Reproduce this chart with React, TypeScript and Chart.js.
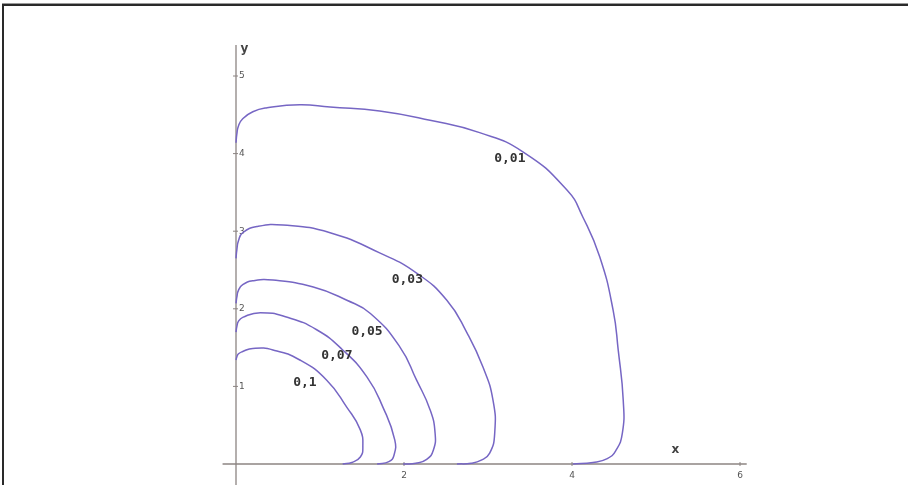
import React, { useEffect, useRef } from "react";
import { Chart, registerables } from "chart.js";

Chart.register(...registerables);

// Contour levels and their curves (x, y)
const levelLabels = ["0,01", "0,03", "0,05", "0,07", "0,1"];

const c001X = [0, 0.01, 0.03, 0.08, 0.2, 0.37, 0.76, 1.12, 1.71, 2.31, 2.9, 3.42, 3.94, 4.13, 4.33, 4.49, 4.55, 4.61, 4.6, 4.52, 4.42, 4.25, 4.01];
const c001Y = [4.14, 4.25, 4.36, 4.45, 4.54, 4.59, 4.63, 4.6, 4.55, 4.43, 4.27, 4.02, 3.53, 3.18, 2.67, 1.98, 1.47, 0.82, 0.4, 0.17, 0.07, 0.02, 0];

const c003X = [0, 0.01, 0.03, 0.08, 0.25, 0.56, 1.12, 1.71, 2.15, 2.51, 2.75, 2.94, 3.06, 3.08, 3.02, 2.92, 2.8, 2.63];
const c003Y = [2.65, 2.76, 2.88, 2.98, 3.06, 3.08, 2.98, 2.72, 2.46, 2.11, 1.69, 1.25, 0.82, 0.4, 0.14, 0.05, 0.01, 0];

const c005X = [0, 0.01, 0.03, 0.08, 0.2, 0.44, 0.92, 1.32, 1.6, 1.95, 2.15, 2.31, 2.37, 2.35, 2.27, 2.14, 1.99];
const c005Y = [2.07, 2.15, 2.24, 2.31, 2.36, 2.37, 2.28, 2.11, 1.94, 1.51, 1.08, 0.7, 0.4, 0.18, 0.06, 0.01, 0];

const c007X = [0, 0.01, 0.03, 0.08, 0.29, 0.61, 0.96, 1.27, 1.56, 1.75, 1.89, 1.88, 1.82, 1.68];
const c007Y = [1.7, 1.77, 1.84, 1.89, 1.95, 1.89, 1.73, 1.47, 1.12, 0.73, 0.31, 0.11, 0.03, 0];

const c01X = [0, 0.01, 0.03, 0.08, 0.2, 0.44, 0.76, 1.08, 1.32, 1.48, 1.51, 1.48, 1.38, 1.27];
const c01Y = [1.34, 1.38, 1.42, 1.45, 1.49, 1.47, 1.34, 1.08, 0.73, 0.44, 0.22, 0.09, 0.02, 0];

const curvesX = [c001X, c003X, c005X, c007X, c01X];
const curvesY = [c001Y, c003Y, c005Y, c007Y, c01Y];

// Label positions (data coords)
const labelX = [3.26, 2.04, 1.56, 1.2, 0.82];
const labelY = [3.93, 2.38, 1.71, 1.4, 1.05];

const xTicks = [2, 4, 6];
const yTicks = [1, 2, 3, 4, 5];
const xAxisRange = [-0.16, 6.08];
const yAxisRange = [-0.3, 5.4];
const xName = "x";
const yName = "y";
const xNamePos = [5.23, 0.18];
const yNamePos = [0.1, 5.35];

const W = 908;
const H = 485;
const PX_X = 84;
const PX_Y = 77.6;
const ORIGIN_X = 236;
const ORIGIN_Y = 464;

const CURVE_COLOR = "#7666c4";
const AXIS_COLOR = "#8c8482";

const decorPlugin = {
  id: "decor",
  beforeDatasetsDraw(chart: any) {
    const ctx = chart.ctx;
    const xs = chart.scales.x;
    const ys = chart.scales.y;
    ctx.save();
    // frame
    ctx.fillStyle = "#9a9a9a";
    ctx.fillRect(2, 3, W, 1);
    ctx.fillStyle = "#2a2a2a";
    ctx.fillRect(2, 4, W, 2);
    ctx.fillRect(2, 4, 2, H);
    // axes
    ctx.strokeStyle = AXIS_COLOR;
    ctx.lineWidth = 1.6;
    const x0 = xs.getPixelForValue(0);
    const y0 = ys.getPixelForValue(0);
    ctx.beginPath();
    ctx.moveTo(xs.getPixelForValue(xAxisRange[0]), y0);
    ctx.lineTo(xs.getPixelForValue(xAxisRange[1]), y0);
    ctx.stroke();
    ctx.lineWidth = 1.3;
    ctx.beginPath();
    ctx.moveTo(x0, ys.getPixelForValue(yAxisRange[1]));
    ctx.lineTo(x0, ys.getPixelForValue(yAxisRange[0]));
    ctx.stroke();
    // ticks
    ctx.lineWidth = 1;
    ctx.fillStyle = "#555";
    ctx.font = "9px 'DejaVu Sans'";
    ctx.textAlign = "center";
    ctx.textBaseline = "top";
    xTicks.forEach((t) => {
      const px = xs.getPixelForValue(t);
      ctx.beginPath();
      ctx.moveTo(px, y0 - 2);
      ctx.lineTo(px, y0 + 2);
      ctx.stroke();
      ctx.fillText(String(t), px, y0 + 7);
    });
    ctx.textAlign = "left";
    ctx.textBaseline = "middle";
    yTicks.forEach((t) => {
      const py = ys.getPixelForValue(t);
      ctx.beginPath();
      ctx.moveTo(x0 - 3, py);
      ctx.lineTo(x0 + 2, py);
      ctx.stroke();
      ctx.fillText(String(t), x0 + 3, py);
    });
    ctx.restore();
  },
  afterDatasetsDraw(chart: any) {
    const ctx = chart.ctx;
    const xs = chart.scales.x;
    const ys = chart.scales.y;
    ctx.save();
    ctx.fillStyle = "#333";
    ctx.font = "bold 13px 'DejaVu Sans Mono'";
    ctx.textAlign = "center";
    ctx.textBaseline = "middle";
    levelLabels.forEach((l, i) => {
      ctx.fillText(l, xs.getPixelForValue(labelX[i]), ys.getPixelForValue(labelY[i]));
    });
    ctx.font = "bold 12px 'DejaVu Sans'";
    ctx.fillStyle = "#444";
    ctx.fillText(xName, xs.getPixelForValue(xNamePos[0]), ys.getPixelForValue(xNamePos[1]));
    ctx.fillText(yName, xs.getPixelForValue(yNamePos[0]), ys.getPixelForValue(yNamePos[1]));
    ctx.restore();
  },
};

export default function App() {
  const ref = useRef<HTMLCanvasElement>(null);
  useEffect(() => {
    if (!ref.current) return;
    const datasets = curvesX.map((xsArr, i) => ({
      label: levelLabels[i],
      data: xsArr.map((x, j) => ({ x, y: curvesY[i][j] })),
      showLine: true,
      pointRadius: 0,
      borderColor: CURVE_COLOR,
      borderWidth: 1.5,
      tension: 0.5,
      fill: false,
    }));
    const chart = new Chart(ref.current, {
      type: "scatter",
      data: { datasets },
      options: {
        animation: false,
        responsive: false,
        devicePixelRatio: 1,
        layout: { padding: 0 },
        plugins: { legend: { display: false }, tooltip: { enabled: false } },
        scales: {
          x: {
            type: "linear",
            display: false,
            min: -ORIGIN_X / PX_X,
            max: (W - ORIGIN_X) / PX_X,
          },
          y: {
            type: "linear",
            display: false,
            min: -(H - ORIGIN_Y) / PX_Y,
            max: ORIGIN_Y / PX_Y,
          },
        },
      },
      plugins: [decorPlugin],
    } as any);
    return () => chart.destroy();
  }, []);
  return (
    <div style={{ position: "absolute", left: 0, top: 0, width: W, height: H, background: "#fff" }}>
      <canvas ref={ref} width={W} height={H} style={{ display: "block" }} />
    </div>
  );
}
